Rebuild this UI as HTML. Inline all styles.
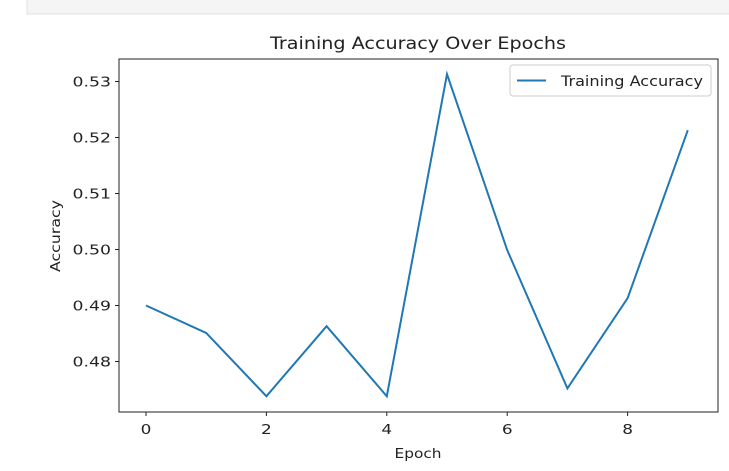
<!DOCTYPE html>
<html><head><meta charset="utf-8"><style>
body{margin:0;background:#fff;}
svg text{font-family:"DejaVu Sans","Liberation Sans",sans-serif;fill:#222;}
</style></head><body>
<svg width="729" height="466" viewBox="0 0 729 466">
<rect x="27" y="-1" width="703" height="15" fill="#f5f5f5" stroke="#e0e0e0"/>
<text x="418" y="49" font-size="16.5" text-anchor="middle" textLength="296" lengthAdjust="spacingAndGlyphs">Training Accuracy Over Epochs</text>
<g id="axes"></g>
<rect x="119" y="59" width="599" height="353" fill="none" stroke="#222" stroke-width="1"/>
<text x="418" y="458" font-size="13.5" text-anchor="middle" textLength="47" lengthAdjust="spacingAndGlyphs">Epoch</text>
<text transform="translate(60,236) rotate(-90)" font-size="13.5" text-anchor="middle" textLength="72" lengthAdjust="spacingAndGlyphs">Accuracy</text>
<g>
<rect x="510" y="65" width="201" height="31" rx="3" fill="#fff" stroke="#ccc"/>
<line x1="517" y1="80.5" x2="546" y2="80.5" stroke="#1f77b4" stroke-width="2"/>
<text x="561" y="86" font-size="14" textLength="142" lengthAdjust="spacingAndGlyphs">Training Accuracy</text>
</g>
</svg>
<script>
const epochs=[0,1,2,3,4,5,6,7,8,9];
const accuracy=[0.490,0.4851,0.4738,0.4863,0.4738,0.5313,0.4999,0.4752,0.4913,0.5213];
const xTicks=[0,2,4,6,8];
const yTicks=[0.48,0.49,0.50,0.51,0.52,0.53];
const yTickLabels=["0.48","0.49","0.50","0.51","0.52","0.53"];
const ns="http://www.w3.org/2000/svg";
const X=e=>146+e*60.2;
const Y=v=>305.5-(v-0.49)*5600;
const g=document.getElementById('axes');
function mk(t,a){const el=document.createElementNS(ns,t);for(const k in a)el.setAttribute(k,a[k]);g.appendChild(el);return el;}
xTicks.forEach(t=>{
 const l=mk('line',{x1:X(t),x2:X(t),y1:412,y2:416,stroke:'#222'});
 
 
 const tx=mk('text',{transform:'translate('+X(t)+',434) scale(1.25,1)','font-size':13.5,'text-anchor':'middle'});tx.textContent=t;
 
 
});
yTicks.forEach((t,i)=>{
 const l=mk('line',{x1:115,x2:119,y1:Y(t),y2:Y(t),stroke:'#222'});
 
 
 const tx=mk('text',{transform:'translate(111,'+(Y(t)+5)+') scale(1.28,1)','font-size':13.5,'text-anchor':'end'});tx.textContent=yTickLabels[i];
 
 
});
const p=mk('polyline',{points:epochs.map((e,i)=>X(e)+','+Y(accuracy[i])).join(' '),fill:'none',stroke:'#1f77b4','stroke-width':2});


</script>
</body></html>
